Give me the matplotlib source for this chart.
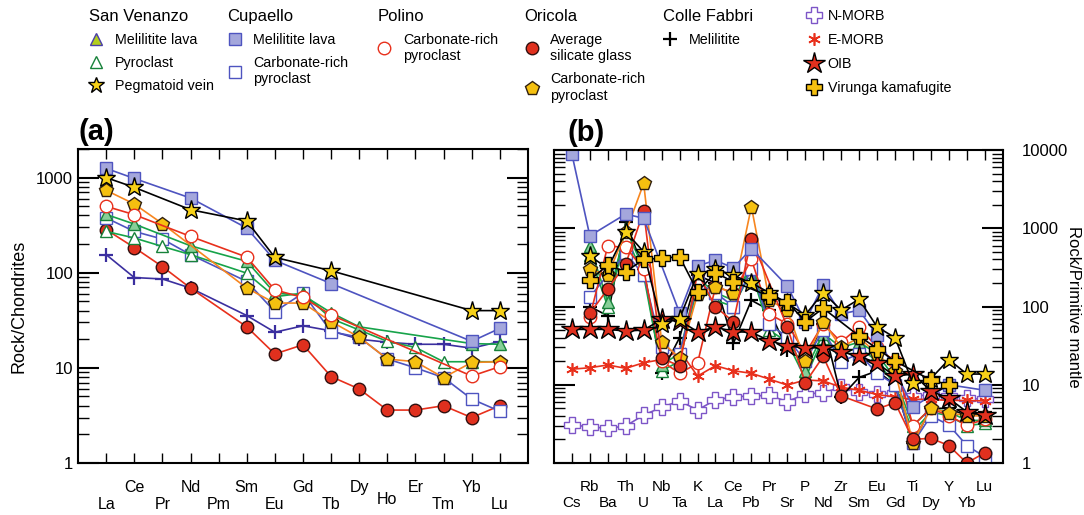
import numpy as np
import matplotlib
matplotlib.use("Agg")
from matplotlib import pyplot as plt
from matplotlib.lines import Line2D

plt.rcParams['font.family'] = ['Liberation Sans', 'DejaVu Sans']

nan = np.nan

# ---- panel (a): chondrite normalised REE
ree = ['La', 'Ce', 'Pr', 'Nd', 'Pm', 'Sm', 'Eu', 'Gd', 'Tb', 'Dy', 'Ho', 'Er', 'Tm', 'Yb', 'Lu']
a_sv_lava = [410, 325, nan, 192, nan, 132, 61, 58, 38, 27, nan, nan, nan, 18, 17.7]
a_sv_pyro = [272, 232, 189, 155, nan, 99, 56, 61, 33, 25, 19, 16.4, 11.6, 11.6, 11.6]
a_peg = [1000, 790, nan, 460, nan, 350, 145, nan, 105, nan, nan, nan, nan, 40, 40]
a_cup_lava = [1250, 980, nan, 610, nan, 295, 135, nan, 77, nan, nan, nan, nan, 19, 26]
a_cup_pyro = [377, 272, 226, 155, nan, 81, 39, 61, 24, 21, 12.4, 10, 7.9, 4.7, 3.5]
a_polino = [499, 408, nan, 241, nan, 146, 66, 55, 36, nan, nan, nan, nan, 8.2, 10.3]
a_ori_glass = [284, 184, 116, 69, nan, 27, 14, 17.5, 8.1, 6, 3.6, 3.6, 4, 3, 4]
a_ori_carb = [735, 528, 328, nan, nan, 69, 48, 48, 30.7, 21, 12.4, 11.6, 7.9, 11.4, 11.6]
a_cf = [155, 89, 86, 69, nan, 35.5, 23.7, 27.7, 24.5, 20, 18.6, 17.7, 17.7, 16.1, 18.9]

# ---- panel (b): primitive mantle normalised
elems = ['Cs', 'Rb', 'Ba', 'Th', 'U', 'Nb', 'Ta', 'K', 'La', 'Ce', 'Pb', 'Pr',
         'Sr', 'P', 'Nd', 'Zr', 'Sm', 'Eu', 'Gd', 'Ti', 'Dy', 'Y', 'Yb', 'Lu']
b_nmorb = [3.06, 2.9, 2.77, 2.97, 4.1, 5.15, 6.2, 4.76, 6.4, 7.0, 7.2, 7.3,
           6.1, 7.6, 7.9, 9.3, 8.1, 7.6, 7.9, 7.2, 7.4, 7.2, 6.7, 6.5]
b_emorb = [15.8, 16.5, 17.9, 16.2, 19.1, 21, 27.3, 12.9, 17.5, 15.1, 14, 11.8,
           9.9, 11.5, 11.2, 9.3, 8.5, 7.5, 7, 6.5, 6.5, 6.3, 6.3, 6.2]
b_oib = [51, 51, 51, 48.6, 50, 68.5, 66, 47.7, 54.4, 47.7, 46.8, 36.6,
         31.2, 29.7, 29.7, 26.4, 23.3, 18.8, 12.9, 13.7, 8.3, 6.7, 4.5, 4.1]
b_virunga = [nan, 218, 339, 278, 401, 413, 433, 155, 270, 207, nan, 136,
             115, 64, 95, nan, 42, 29, 20, nan, 11.5, 10, nan, nan]
b_cup_lava = [8900, 800, nan, 1520, 1340, nan, 83, 330, 390, 310, 550, nan,
              183, 64, 188, 80, 90, 43, nan, 5.2, nan, 10, nan, 8.5]
b_cup_pyro = [nan, 133, nan, 479, 253, 30, 25, 200, 150, 99.5, 300, 60,
              40, 20, 50, 19.7, 25, 14, 10, 1.8, 4, 3.06, 1.67, 1.2]
b_polino = [nan, 74, 593, 570, 300, 20, 14, 18.8, 179, 150, 400, 80,
            60, 25, 60, 35, 55, 30, 20, 3, 5, 4, 3.06, 3.6]
b_ori_glass = [nan, 82, 167, 349, 1660, 21.8, 17.4, 270, 99, 64, 729, nan,
               55, 10.6, 23, 7.2, nan, 4.9, 5.9, 2, 2.07, 1.67, 1.0, 1.35]
b_ori_carb = [nan, 301, 250, 888, 3750, 35.5, 22, 144, 180, 150, 1888, 120,
              90, 20, 64, 30, 40, 25, 15, 1.8, 5, 4.4, 4, 4]
b_sv_lava = [nan, 600, 115, 1000, 300, 18, 25, 230, 150, 120, 350, 60,
             40, 15, 45, 30, 35, 25, 12, 3, 5, 4.5, 3.5, 3.5]
b_sv_pyro = [nan, 450, 100, 800, 250, 15, 20, 180, 120, 100, 280, 50,
             35, 12, 40, 25, 30, 20, 10, 2.5, 4.5, 4, 3, 3.2]
b_peg = [nan, 442, 308, 900, 500, 60, 70, 260, 300, 250, 200, 150,
         110, 78, 150, 90, 124, 55, 40, 10.4, 12, 21, 13.7, 13.7]
b_cf = [nan, 100, 76, 1200, 300, 14.3, 40, 250, 200, 34, 120, 90,
        27.8, 20, 60, 7, 12.4, 15, 10, 1.8, 5, 5, 4, 4.5]

BLUE = '#4e54c0'
GREEN = '#17a34a'
RED = '#e8301c'
ORANGE = '#f7861f'
GOLD = '#f5c010'
PURPLE = '#7d55c7'

styles = {
    'sv_lava': dict(marker='^', ms=9, mfc='#86cf98', mec='#17823a', color=GREEN),
    'sv_pyro': dict(marker='^', ms=9, mfc='white', mec='#17823a', color=GREEN),
    'peg': dict(marker='*', ms=14, mfc='#f7d117', mec='black', color='black'),
    'cup_lava': dict(marker='s', ms=9, mfc='#a4a7dc', mec=BLUE, color=BLUE),
    'cup_pyro': dict(marker='s', ms=9, mfc='white', mec=BLUE, color=BLUE),
    'polino': dict(marker='o', ms=9, mfc='white', mec=RED, color=RED),
    'ori_glass': dict(marker='o', ms=9, mfc='#e0301e', mec='#301010', color=RED),
    'ori_carb': dict(marker='p', ms=10, mfc=GOLD, mec='#302010', color=ORANGE),
    'cf_a': dict(marker='+', ms=10, mew=1.6, mec='#3b2f9f', color='#3b2f9f'),
    'cf_b': dict(marker='+', ms=10, mew=1.6, mec='black', color='black'),
    'nmorb': dict(marker='P', ms=12, mfc='white', mec=PURPLE, color=PURPLE),
    'emorb': dict(marker=(6, 2, 0), ms=9, mew=1.2, mec=RED, color=RED),
    'oib': dict(marker='*', ms=16, mfc='#e0301e', mec='black', color='black'),
    'virunga': dict(marker='P', ms=12, mfc=GOLD, mec='black', color='black'),
}


def draw(ax, vals, key):
    y = np.array(vals, dtype=float)
    x = np.arange(1, len(y) + 1)
    ok = ~np.isnan(y)
    st = dict(styles[key])
    st.setdefault('mew', 1.0)
    ax.plot(x[ok], y[ok], lw=1.2, **st)


def setup(ax, labels, size, right=False):
    n = len(labels)
    ax.set_yscale('log')
    ax.set_xlim(0, n + 1)
    ax.set_xticks(np.arange(1, n + 1))
    ax.set_xticklabels([lb if i % 2 else '\n' + lb for i, lb in enumerate(labels)],
                       fontsize=size)
    ax.tick_params(axis='x', direction='in', length=7, width=1, top=True, pad=12)
    ax.tick_params(axis='y', which='major', direction='in', length=15, width=1.5,
                   left=True, right=True, labelsize=12)
    ax.tick_params(axis='y', which='minor', direction='in', length=8, width=1,
                   left=True, right=True)
    if right:
        ax.tick_params(axis='y', which='both', labelleft=False, labelright=True, pad=14)
    for sp in ax.spines.values():
        sp.set_linewidth(1.5)


fig = plt.figure(figsize=(10.84, 5.15), dpi=100)
axa = fig.add_axes([0.072, 0.101, 0.415, 0.6097])
axb = fig.add_axes([0.511, 0.101, 0.414, 0.6077])

for vals, key in [(a_cf, 'cf_a'), (a_ori_glass, 'ori_glass'), (a_cup_pyro, 'cup_pyro'),
                  (a_sv_pyro, 'sv_pyro'), (a_sv_lava, 'sv_lava'), (a_ori_carb, 'ori_carb'),
                  (a_polino, 'polino'), (a_cup_lava, 'cup_lava'), (a_peg, 'peg')]:
    draw(axa, vals, key)
setup(axa, ree, 11.5)
axa.set_ylim(1, 2000)
axa.set_yticks([1, 10, 100, 1000])
axa.set_yticklabels(['1', '10', '100', '1000'])
axa.set_ylabel('Rock/Chondrites', fontsize=13, labelpad=6)
for t in axa.get_xticklabels():
    if t.get_text().strip() == 'Ho':
        t.set_linespacing(0.75)

for vals, key in [(b_nmorb, 'nmorb'), (b_emorb, 'emorb'), (b_cf, 'cf_b'),
                  (b_sv_pyro, 'sv_pyro'), (b_sv_lava, 'sv_lava'), (b_cup_pyro, 'cup_pyro'),
                  (b_polino, 'polino'), (b_ori_carb, 'ori_carb'), (b_ori_glass, 'ori_glass'),
                  (b_cup_lava, 'cup_lava'), (b_oib, 'oib'), (b_peg, 'peg'),
                  (b_virunga, 'virunga')]:
    draw(axb, vals, key)
setup(axb, elems, 11, right=True)
axb.set_ylim(1, 10000)
axb.set_yticks([1, 10, 100, 1000, 10000])
axb.set_yticklabels(['1', '10', '100', '1000', '10000'])
axb.yaxis.set_label_position('right')
axb.set_ylabel('Rock/Primitive mantle', fontsize=12, rotation=270, labelpad=9)

axa.text(0.0, 1.03, '(a)', transform=axa.transAxes, fontsize=21, fontweight='bold')
axb.text(0.03, 1.03, '(b)', transform=axb.transAxes, fontsize=21, fontweight='bold')


# ---- legend groups
def h(key, **kw):
    st = dict(styles[key])
    st.pop('color', None)
    st.update(kw)
    st.setdefault('mew', 1.0)
    return Line2D([], [], ls='none', **st)


groups = [
    ('San Venanzo', 0.074, [(h('sv_lava', mfc='#b3cf1d', mec='#4a3fa8'), 'Melilitite lava'),
                            (h('sv_pyro'), 'Pyroclast'),
                            (h('peg', ms=12), 'Pegmatoid vein')]),
    ('Cupaello', 0.202, [(h('cup_lava'), 'Melilitite lava'),
                         (h('cup_pyro'), 'Carbonate-rich\npyroclast')]),
    ('Polino', 0.34, [(h('polino'), 'Carbonate-rich\npyroclast')]),
    ('Oricola', 0.476, [(h('ori_glass'), 'Average\nsilicate glass'),
                        (h('ori_carb'), 'Carbonate-rich\npyroclast')]),
    ('Colle Fabbri', 0.604, [(h('cf_b'), 'Melilitite')]),
]
for title, x0, items in groups:
    fig.legend([it[0] for it in items], [it[1] for it in items],
               title=title, loc='upper left', bbox_to_anchor=(x0, 1.0),
               frameon=False, fontsize=10.3, title_fontsize=12,
               alignment='left', handlelength=1.0, handletextpad=0.8,
               labelspacing=0.65, borderaxespad=0.2)

fig.legend([h('nmorb'), h('emorb'), h('oib'), h('virunga')],
           ['N-MORB', 'E-MORB', 'OIB', 'Virunga kamafugite'],
           loc='upper left', bbox_to_anchor=(0.736, 1.0), frameon=False,
           fontsize=10.3, handlelength=1.0, handletextpad=0.5,
           labelspacing=0.7, borderaxespad=0.2)

fig.savefig('out.png', dpi=100)
